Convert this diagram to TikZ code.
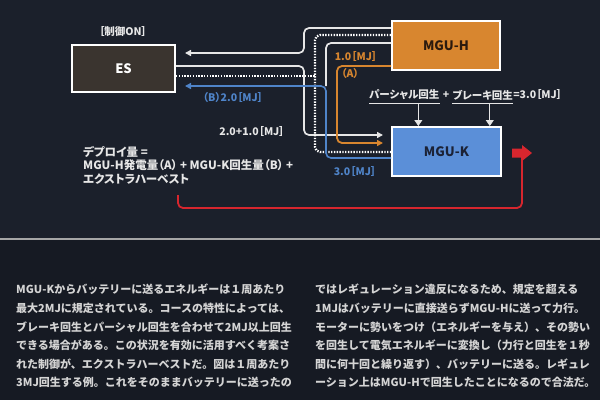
\documentclass[tikz,border=0pt]{standalone}
\usepackage{fontspec}
\setmainfont{Noto Sans CJK JP}
\newfontfamily\jpp{Noto Sans CJK JP}[RawFeature=+palt]
\usetikzlibrary{calc,arrows.meta,positioning}
\definecolor{bgtop}{HTML}{1B202B}
\definecolor{bgbot}{HTML}{161A23}
\definecolor{esfill}{HTML}{3A342F}
\definecolor{orangef}{HTML}{D8862F}
\definecolor{bluef}{HTML}{5B8FD8}
\definecolor{bluel}{HTML}{4F84C9}
\definecolor{redc}{HTML}{D7262E}
\definecolor{linew}{HTML}{E6E6E6}
\definecolor{bodyc}{HTML}{D4D4D4}
\definecolor{hdark}{HTML}{2B1A0E}
\definecolor{kdark}{HTML}{1B2236}

\begin{document}
\begin{tikzpicture}[x=1pt,y=-1pt,
	box/.style={draw=white, line width=2pt, inner sep=0pt, font=\jpp\bfseries\fontsize{13}{15}\selectfont},
	lbl/.style={inner sep=0pt, text=linew, font=\jpp\bfseries\fontsize{10.5}{13.5}\selectfont},
	wline/.style={draw=linew, line width=1.7pt, rounded corners=5pt},
	dline/.style={draw=white, line width=2.3pt, dash pattern=on 1.4pt off 1.4pt, rounded corners=5pt},
	bline/.style={draw=bluel, line width=1.6pt, rounded corners=5pt},
	oline/.style={draw=orangef, line width=1.8pt, rounded corners=5pt},
	toarr/.style={-{Triangle[length=6pt,width=6pt]}},
	body/.style={anchor=north west, inner sep=0pt, align=left, text=bodyc, font=\bfseries\fontsize{11}{18.6}\selectfont}]
	%Background
	\useasboundingbox (0,0) rectangle (600,400);
	\fill[bgtop] (0,0) rectangle (600,239);
	\fill[bgbot] (0,239) rectangle (600,400);
	\draw[gray!70, line width=1.2pt] (0,239) -- (600,239);
	%Boxes
	\node[box, fill=esfill, text=white, minimum width=103pt, minimum height=47pt] (es) at (123.5,68.5) {ES};
	\node[box, fill=orangef, text=hdark, minimum width=108pt, minimum height=49pt] (mguh) at (446,45.5) {MGU-H};
	\node[box, fill=bluef, text=kdark, minimum width=109pt, minimum height=49pt] (mguk) at (446.5,151.5) {MGU-K};
	\node[lbl] (ctrl) at (123,32) {［制御ON］};
	%Ends of the lines
	\coordinate (h1) at ([yshift=-8pt]mguh.north west);
	\coordinate (h2) at ([yshift=-15pt]mguh.north west);
	\coordinate (h3) at ([yshift=-23pt]mguh.north west);
	\coordinate (h4) at ([yshift=-46pt]mguh.north west);
	\coordinate (e1) at ([xshift=9pt,yshift=-9pt]es.north east);
	\coordinate (e2) at ([yshift=-22pt]es.north east);
	\coordinate (e3) at ([yshift=-32pt]es.north east);
	\coordinate (e4) at ([xshift=9pt,yshift=-42pt]es.north east);
	\coordinate (k1) at ([xshift=-8pt,yshift=-9pt]mguk.north west);
	\coordinate (k2) at ([xshift=-8pt,yshift=-17pt]mguk.north west);
	\coordinate (k3) at ([yshift=-26pt]mguk.north west);
	\coordinate (k4) at ([yshift=-32pt]mguk.north west);
	\coordinate (xa) at (304,0);
	\coordinate (xd) at (315,0);
	\coordinate (xb) at (326,0);
	\coordinate (xo) at (337,0);
	%lines
	\draw[wline, toarr] (h1) -- (h1 -| xa) |- (e1);
	\draw[wline, toarr] (e2) -- (e2 -| xa) |- (k1);
	\draw[dline] (e3) -- (e3 -| xd);
	\draw[dline] (h2) -- (h2 -| xd) |- (k3);
	\draw[wline] (h3) -- (h3 -| xb) -- (e4 -| xb);
	\draw[bline, toarr] (k4) -- (k4 -| xb) |- (e4);
	\draw[oline, toarr] (h4) -- (h4 -| xo) |- (k2);
	%Labels
	\node[lbl, text=bluel] (lb) at (233,98) {（B）2.0［MJ］};
	\node[lbl] (lw) at (252,132) {2.0+1.0［MJ］};
	\node[lbl, text=orangef] (lo) at (356,57) {1.0［MJ］};
	\node[lbl, text=orangef] (la) at (350,74) {（A）};
	\node[lbl, text=bluel] (lk) at (355,172) {3.0［MJ］};
	%Regeneration
	\node[lbl, anchor=west] (pr) at (369,95) {パーシャル回生};
	\node[lbl, right=3pt of pr] (pl) {+};
	\node[lbl, right=3pt of pl] (br) {ブレーキ回生};
	\node[lbl, right=0pt of br] (sum) {=3.0［MJ］};
	\draw[linew, line width=0.8pt] ([yshift=-3pt]pr.south west) -- ([yshift=-3pt]pr.south east);
	\draw[linew, line width=0.8pt] ([yshift=-3pt]br.south west) -- ([yshift=-3pt]br.south east);
	\coordinate (pa) at ([xshift=14pt,yshift=-3pt]pr.south);
	\coordinate (ba) at ([xshift=7pt,yshift=-3pt]br.south);
	\draw[linew, line width=0.8pt, -{Triangle[length=6pt,width=8pt]}] (pa) -- (pa |- mguk.north);
	\draw[linew, line width=0.8pt, -{Triangle[length=6pt,width=8pt]}] (ba) -- (ba |- mguk.north);
	%Deploy
	\node[lbl, anchor=north west, align=left, font=\jpp\bfseries\fontsize{11.5}{13.5}\selectfont] (dep) at (83,146) {デプロイ量 =\\MGU-H発電量（A） + MGU-K回生量（B） +\\エクストラハーベスト};
	\coordinate (r0) at (178,195);
	\coordinate (push) at (522,153);
	\draw[redc, line width=1.8pt, rounded corners=5pt] (r0) |- ($(push)+(0,55)$) -- ($(push)+(0,4)$);
	\fill[redc] ($(push)+(-10,-4.5)$) -- ($(push)+(0,-4.5)$) -- ($(push)+(0,-8)$) -- ($(push)+(10,0)$) -- ($(push)+(0,8)$) -- ($(push)+(0,4.5)$) -- ($(push)+(-10,4.5)$) -- cycle;
	%Text
	\node[body] (coll) at (16,284) {MGU-Kからバッテリーに送るエネルギーは１周あたり\\最大2MJに規定されている。コースの特性によっては、\\ブレーキ回生とパーシャル回生を合わせて2MJ以上回生\\できる場合がある。この状況を有効に活用すべく考案さ\\れた制御が、エクストラハーベストだ。図は１周あたり\\3MJ回生する例。これをそのままバッテリーに送ったの};
	\node[body] (colr) at (315,284) {ではレギュレーション違反になるため、規定を超える\\1MJはバッテリーに直接送らずMGU-Hに送って力行。\\モーターに勢いをつけ（エネルギーを与え）、その勢い\\を回生して電気エネルギーに変換し（力行と回生を１秒\\間に何十回と繰り返す）、バッテリーに送る。レギュレ\\ーション上はMGU-Hで回生したことになるので合法だ。};
\end{tikzpicture}
\end{document}
